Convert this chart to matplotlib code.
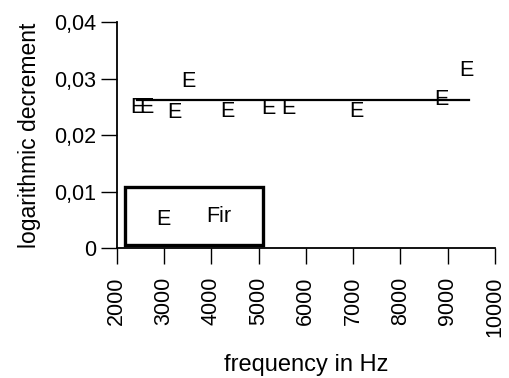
import matplotlib
matplotlib.use("Agg")
import matplotlib.pyplot as plt
from matplotlib.patches import Rectangle

plt.rcParams['font.family'] = ['Liberation Sans', 'DejaVu Sans']

# measured points (fir)
freq = [2440, 2634, 3211, 3514, 4346, 5205, 5628, 7059, 8871, 9400]
decrement = [0.0248, 0.0248, 0.0239, 0.0294, 0.0241, 0.0247, 0.0247, 0.0242, 0.0262, 0.0314]

# mean line
mean_freq = [2423, 9454]
mean_val = [0.0262, 0.0262]

xticks = [2000, 3000, 4000, 5000, 6000, 7000, 8000, 9000, 10000]
yticks = [0, 0.01, 0.02, 0.03, 0.04]
ylabels = ['0', '0,01', '0,02', '0,03', '0,04']

fs = 15.5

fig = plt.figure(figsize=(5.09, 3.78), dpi=100)
ax = fig.add_axes([0.2293, 0.3439, 0.7432, 0.5979])

ax.plot(mean_freq, mean_val, color='black', lw=1.6)
for f, d in zip(freq, decrement):
    ax.text(f, d, 'E', ha='center', va='center', fontsize=fs)

ax.set_xlim(2000, 10000)
ax.set_ylim(0, 0.04)
ax.set_xticks(xticks)
ax.set_xticklabels([str(t) for t in xticks], rotation=90, fontsize=fs)
ax.set_yticks(yticks)
ax.set_yticklabels(ylabels, fontsize=fs)
ax.tick_params(axis='both', length=11.5, width=1, direction='out')
ax.tick_params(axis='x', pad=9)
ax.tick_params(axis='y', pad=3)

for s in ['top', 'right']:
    ax.spines[s].set_visible(False)
for s in ['left', 'bottom']:
    ax.spines[s].set_linewidth(1.3)

ax.set_xlabel('frequency in Hz', fontsize=17, labelpad=12)
ax.set_ylabel('logarithmic decrement', fontsize=16.5, labelpad=10)

# legend box
ax.add_patch(Rectangle((0.022, 0.013), 0.364, 0.258, transform=ax.transAxes,
                       fill=False, lw=2.4, edgecolor='black', clip_on=False))
ax.text(0.124, 0.127, 'E', transform=ax.transAxes, ha='center', va='center', fontsize=fs)
ax.text(0.271, 0.14, 'Fir', transform=ax.transAxes, ha='center', va='center', fontsize=fs)

fig.savefig('out.png', dpi=100)
